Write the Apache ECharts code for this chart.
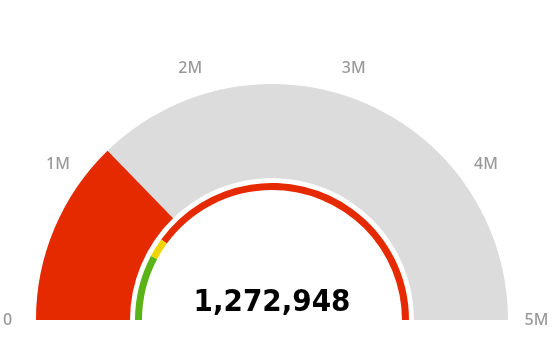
<!DOCTYPE html>
<html>
<head>
<meta charset="utf-8">
<script src="https://cdn.jsdelivr.net/npm/echarts@6/dist/echarts.min.js"></script>
<style>html,body{margin:0;padding:0;background:#fff;}#c{width:554px;height:352px;}</style>
</head>
<body>
<div id="c"></div>
<script>
// ---- data ----
var gaugeMin = 0;
var gaugeMax = 5000000;
var tickLabels = ['0', '1M', '2M', '3M', '4M', '5M'];
var currentValue = 1272948;
var bandLimits = [775000, 1000000, 5000000];
var bandColors = ['#5cb318', '#f0d400', '#e62a00'];

// ---- style ----
var gaugeRadius = 236;
var labelFont = 'Noto Sans';
var labelSize = 16;
var labelColor = '#999999';
var labelCenterRadius = 264.5;   // where the label centres should sit
var labelDistance = -48;         // anchor distance passed to ECharts
var labelH = 16;

var chart = echarts.init(document.getElementById('c'));
var n = tickLabels.length;
var step = (gaugeMax - gaugeMin) / (n - 1);
var bandStops = bandLimits.map(function (v, i) {
  return [(v - gaugeMin) / (gaugeMax - gaugeMin), bandColors[i]];
});

// Build per-label rich styles so each label is centred on the label radius
// (ECharts gauge labels are anchored by edge depending on angle).
var ctx = document.createElement('canvas').getContext('2d');
ctx.font = '500 ' + labelSize + 'px "' + labelFont + '"';
var anchorR = gaugeRadius - labelDistance;
var rich = {};
tickLabels.forEach(function (t, i) {
  var a = Math.PI - i / (n - 1) * Math.PI;
  var ux = Math.cos(a), uy = -Math.sin(a);
  var k = anchorR - labelCenterRadius;
  var sx = -k * ux, sy = -k * uy;
  var w = ctx.measureText(t).width;
  var pad = [0, 0, 0, 0];
  if (ux < -0.4) pad[3] = sx - w / 2;
  else if (ux > 0.4) pad[1] = -sx - w / 2;
  else if (sx > 0) pad[3] = 2 * sx; else pad[1] = -2 * sx;
  if (uy < -0.8) pad[0] = sy - labelH / 2;
  else if (uy > 0.8) pad[2] = -sy - labelH / 2;
  else if (sy > 0) pad[0] = 2 * sy; else pad[2] = -2 * sy;
  rich['t' + i] = {
    padding: pad.map(function (p) { return Math.max(0, p); }),
    fontSize: labelSize,
    fontFamily: labelFont,
    fontWeight: 500,
    color: labelColor,
    height: labelH
  };
});

chart.setOption({
  animation: false,
  backgroundColor: '#ffffff',
  series: [
    {
      type: 'gauge',
      center: [272, 320],
      radius: gaugeRadius,
      startAngle: 180,
      endAngle: 0,
      min: gaugeMin,
      max: gaugeMax,
      splitNumber: n - 1,
      axisLine: { lineStyle: { width: 94, color: [[1, '#dcdcdc']] } },
      progress: { show: true, width: 94, roundCap: false, itemStyle: { color: '#e62a00' } },
      pointer: { show: false },
      anchor: { show: false },
      axisTick: { show: false },
      splitLine: { show: false, length: 0, distance: 0 },
      axisLabel: {
        show: true,
        distance: labelDistance,
        color: labelColor,
        fontSize: labelSize,
        fontFamily: labelFont,
        fontWeight: 500,
        rich: rich,
        formatter: function (v) {
          var idx = Math.round((v - gaugeMin) / step);
          return tickLabels[idx] !== undefined ? '{t' + idx + '|' + tickLabels[idx] + '}' : '';
        }
      },
      title: { show: false },
      detail: {
        show: true,
        offsetCenter: [0, -17],
        fontSize: 31,
        fontWeight: 'bold',
        fontFamily: 'DejaVu Sans Condensed',
        color: '#000000',
        formatter: function (v) { return v.toLocaleString('en-US'); }
      },
      data: [{ value: currentValue }]
    },
    {
      type: 'gauge',
      center: [272, 320],
      radius: 137,
      startAngle: 180,
      endAngle: 0,
      min: gaugeMin,
      max: gaugeMax,
      axisLine: { lineStyle: { width: 7, color: bandStops } },
      progress: { show: false },
      pointer: { show: false },
      anchor: { show: false },
      axisTick: { show: false },
      splitLine: { show: false },
      axisLabel: { show: false },
      title: { show: false },
      detail: { show: false },
      data: [{ value: currentValue }]
    }
  ]
});
</script>
</body>
</html>
